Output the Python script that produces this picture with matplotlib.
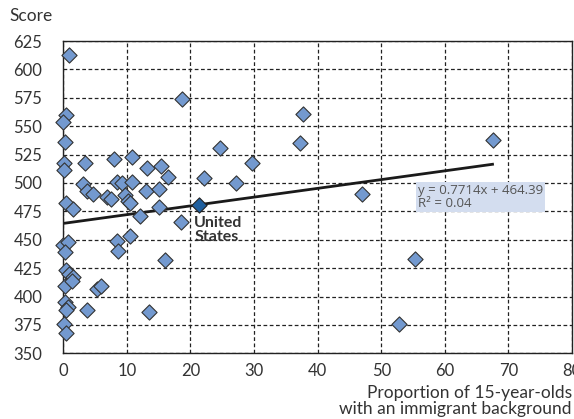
import matplotlib

matplotlib.use("Agg")
import matplotlib.pyplot as plt
import numpy as np

plt.rcParams["font.family"] = ["Lato", "DejaVu Sans"]

# proportion of 15-year-olds with an immigrant background (%) vs. score
share = [0.9, 18.6, 0.4, 0.0, 0.3, 24.7, 0.1, 0.1, 3.4, 8.0, 10.8, 13.1,
         15.4, 16.5, 22.1, 27.2, 3.1, 3.7, 4.6, 8.5, 9.3, 10.8, 6.8, 7.5,
         9.7, 10.1, 10.5, 13.0, 15.0, 0.5, 1.6, 15.1, 12.1, 18.5, 0.0, 0.8,
         0.3, 8.5, 10.5, 8.6, 16.0, 0.5, 0.9, 1.6, 0.3, 1.3, 5.3, 5.9, 0.3,
         0.8, 0.4, 3.8, 13.5, 0.1, 0.4, 37.7, 37.2, 29.6, 47.0, 67.5, 55.3,
         52.8]
score = [613, 574, 560, 554, 536, 531, 518, 511, 518, 521, 523, 513,
         515, 505, 504, 500, 499, 493, 490, 501, 500, 501, 488, 486,
         489, 484, 482, 493, 495, 482, 477, 479, 471, 466, 445, 448,
         439, 449, 453, 440, 432, 423, 420, 417, 409, 414, 407, 409, 395,
         391, 388, 388, 386, 376, 368, 561, 535, 518, 490, 538, 433,
         376]

us_share = [21.4]
us_score = [481]

slope = 0.7714
intercept = 464.39
r_squared = 0.04

fig = plt.figure(figsize=(5.74, 4.19), dpi=100)
ax = fig.add_axes([0.1103, 0.1568, 0.8862, 0.7453])

ax.set_xlim(0, 80)
ax.set_ylim(350, 625)
ax.set_xticks(np.arange(0, 81, 10))
ax.set_yticks(np.arange(350, 626, 25))
ax.grid(True, color="#222222", linestyle=(0, (3, 2)), linewidth=0.9)
ax.set_axisbelow(True)
ax.tick_params(length=0, labelsize=12, colors="#333333")
ax.tick_params(axis="y", pad=15)
ax.tick_params(axis="x", pad=7)
for sp in ax.spines.values():
    sp.set_color("#222222")
    sp.set_linewidth(1.0)

ax.scatter(share, score, marker="D", s=60, color="#7399cf",
           edgecolor="#333333", linewidth=0.8, zorder=3, clip_on=False)
ax.scatter(us_share, us_score, marker="D", s=60, color="#1f5f9e",
           edgecolor="#222222", linewidth=0.8, zorder=4)

xs = np.array([0, max(share)])
ax.plot(xs, slope * xs + intercept, color="#1a1a1a", linewidth=2.0, zorder=2)

ax.text(20.6, 459, "United\nStates", fontsize=11.5, fontweight="bold",
        color="#333333", va="center", ha="left", linespacing=1.0, zorder=5)

ax.text(55.8, 488, f"y = {slope}x + {intercept}\nR² = {r_squared:.2f}",
        fontsize=9.5, color="#555555", va="center", ha="left",
        family=["Open Sans", "DejaVu Sans"], linespacing=1.0, zorder=5,
        bbox=dict(boxstyle="square,pad=0.15", facecolor="#d3ddef",
                  edgecolor="none"))

fig.text(0.017, 0.962, "Score", fontsize=12.5, color="#333333", va="center")
fig.text(0.9965, 0.004, "Proportion of 15-year-olds\nwith an immigrant background",
         fontsize=12.5, color="#333333", ha="right", va="bottom",
         linespacing=1.0)

fig.savefig("out.png", dpi=100)
